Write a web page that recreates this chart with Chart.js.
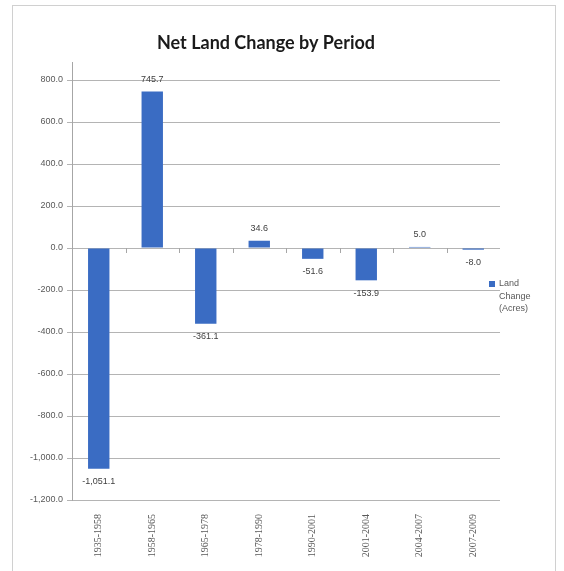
<!DOCTYPE html>
<html lang="en">
<head>
  <meta charset="UTF-8" />
  <title>Net Land Change by Period</title>
  <script src="https://cdn.jsdelivr.net/npm/chart.js"></script>
  <style>
    body {
      margin: 0;
      background: #ffffff;
    }
    #wrap {
      width: 564px;
      height: 571px;
      position: relative;
    }
  </style>
</head>
<body>
  <div id="wrap">
    <canvas id="landChart" width="564" height="571"></canvas>
  </div>

  <script>
    const periods = ["1935-1958", "1958-1965", "1965-1978", "1978-1990", "1990-2001", "2001-2004", "2004-2007", "2007-2009"];
    const landChange = [-1051.1, 745.7, -361.1, 34.6, -51.6, -153.9, 5.0, -8.0];
    const yTicks = [800, 600, 400, 200, 0, -200, -400, -600, -800, -1000, -1200];

    const barBlue = "#3a6cc3";
    const textGray = "#595959";

    function fmt(v) {
      return v.toLocaleString("en-US", { minimumFractionDigits: 1, maximumFractionDigits: 1 });
    }

    // frame, title, value labels and the wrapped legend on the right
    const extras = {
      id: "extras",
      beforeDraw(chart) {
        const ctx = chart.ctx;
        ctx.save();
        ctx.strokeStyle = "#d0d0d0";
        ctx.lineWidth = 1;
        ctx.strokeRect(12.5, 5.5, 543, 570);
        ctx.restore();
      },
      afterDraw(chart) {
        const ctx = chart.ctx;
        const area = chart.chartArea;
        ctx.save();

        ctx.fillStyle = "#1a1a1a";
        ctx.font = "bold 18px Lato";
        ctx.textAlign = "center";
        ctx.textBaseline = "middle";
        ctx.fillText("Net Land Change by Period", 266, 43);

        // value axis line runs a bit above the top tick, as in Excel
        ctx.strokeStyle = "#a6a6a6";
        ctx.lineWidth = 1;
        ctx.beginPath();
        ctx.moveTo(Math.round(area.left) + 0.5, area.top - 18);
        ctx.lineTo(Math.round(area.left) + 0.5, area.top);
        ctx.stroke();

        const meta = chart.getDatasetMeta(0);
        ctx.font = "9px 'Liberation Sans'";
        ctx.fillStyle = "#404040";
        meta.data.forEach((bar, i) => {
          const v = landChange[i];
          const y = v >= 0 ? bar.y - 12 : bar.y + 13;
          ctx.fillText(fmt(v), bar.x, y);
        });

        // category axis tick marks on the zero line
        const xs = chart.scales.x;
        const y0 = chart.scales.y.getPixelForValue(0);
        for (let i = 1; i < periods.length; i++) {
          const x = Math.round((xs.getPixelForValue(i - 1) + xs.getPixelForValue(i)) / 2) + 0.5;
          ctx.beginPath();
          ctx.moveTo(x, y0);
          ctx.lineTo(x, y0 + 5);
          ctx.stroke();
        }

        // legend
        ctx.fillStyle = barBlue;
        ctx.fillRect(489, 281, 6, 6);
        ctx.fillStyle = textGray;
        ctx.font = "9px 'Liberation Sans'";
        ctx.textAlign = "left";
        ctx.fillText("Land", 499, 284);
        ctx.fillText("Change", 499, 297);
        ctx.fillText("(Acres)", 499, 309);

        ctx.restore();
      }
    };

    new Chart(document.getElementById("landChart"), {
      type: "bar",
      data: {
        labels: periods,
        datasets: [{
          label: "Land Change (Acres)",
          data: landChange,
          backgroundColor: barBlue,
          barPercentage: 0.4,
          categoryPercentage: 1.0
        }]
      },
      options: {
        responsive: false,
        animation: false,
        layout: { padding: { left: 12, right: 64, top: 80, bottom: 0 } },
        plugins: {
          legend: { display: false },
          title: { display: false },
          tooltip: { enabled: false }
        },
        scales: {
          x: {
            grid: { display: false },
            border: { display: false },
            ticks: {
              color: textGray,
              font: { family: "'Liberation Serif'", size: 10 },
              minRotation: 90,
              maxRotation: 90,
              padding: 6
            },
            afterFit(scale) { scale.height = 71; }
          },
          y: {
            min: -1200,
            max: 800,
            afterBuildTicks(scale) {
              scale.ticks = yTicks.map(v => ({ value: v }));
            },
            grid: {
              color: "#b4b4b4",
              tickLength: 5,
              drawTicks: true
            },
            border: { display: true, color: "#a6a6a6" },
            ticks: {
              color: textGray,
              font: { family: "'Liberation Sans'", size: 9 },
              padding: 4,
              callback: v => fmt(v)
            },
            afterFit(scale) { scale.width = 60; }
          }
        }
      },
      plugins: [extras]
    });
  </script>
</body>
</html>
